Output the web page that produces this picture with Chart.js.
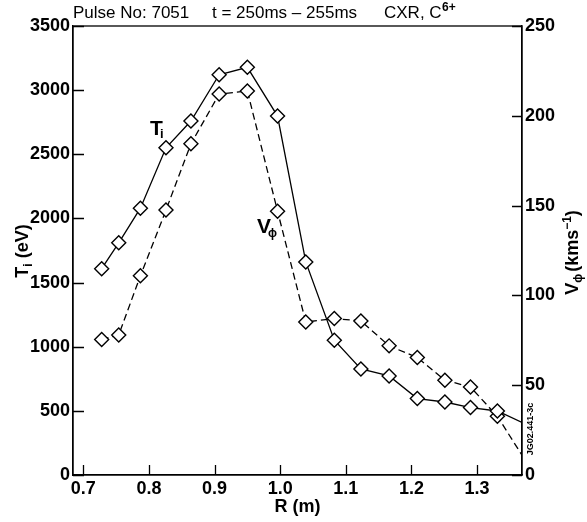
<!DOCTYPE html>
<html><head><meta charset="utf-8">
<script src="https://cdn.jsdelivr.net/npm/chart.js@4/dist/chart.umd.min.js"></script>
<style>html,body{margin:0;padding:0;background:#fff}#wrap{width:587px;height:522px;position:relative}</style>
</head><body><div id="wrap"><canvas id="c" width="587" height="522"></canvas></div>
<script>
// Data
const radiusM  = [0.728,0.754,0.787,0.826,0.864,0.907,0.950,0.996,1.039,1.0825,1.123,1.166,1.209,1.251,1.290,1.331];
const ionTemp  = [1608,1810,2080,2551,2759,3120,3178,2798,1661,1051,827,772,596,569,526,499];
const rotVel   = [75.4,78.0,110.9,147.5,184.4,212.1,213.8,146.9,85.2,87.1,85.8,71.9,65.4,52.8,49.0,32.7];
// where each line leaves the plot at the right edge
const edgeR = 1.3685;
const edgeTemp = 409;
const edgeVel = 11.0;
const xTickValues = [0.7,0.8,0.9,1.0,1.1,1.2,1.3];
const tempTickStep = 500;
const velTickStep = 50;

const FONT = '"Liberation Sans", Arial, Helvetica, sans-serif';

function pts(xs, ys, ex, ey){ const a = xs.map((x,i)=>({x:x,y:ys[i]})); a.push({x:ex,y:ey}); return a; }
function radii(n){ const r = new Array(n).fill(7); r.push(0); return r; }

function runs(ctx, x, y, parts){
  let cx = x;
  for (const p of parts){
    ctx.font = (p[2]||'bold') + ' ' + p[1] + 'px ' + FONT;
    ctx.fillText(p[0], cx + (p[4]||0), y + (p[3]||0));
    cx += ctx.measureText(p[0]).width + (p[4]||0);
  }
  return cx - x;
}
function runsWidth(ctx, parts){
  let w=0; for (const p of parts){ ctx.font=(p[2]||'bold')+' '+p[1]+'px '+FONT; w+=ctx.measureText(p[0]).width+(p[4]||0);} return w;
}
function txt(ctx, s, x, y, size, weight){ ctx.font = (weight||'normal')+' '+size+'px '+FONT; ctx.fillText(s, x, y); }

const decor = {
  id:'decor',
  afterDraw(chart){
    const ctx = chart.ctx, a = chart.chartArea;
    const xs = chart.scales.x, ys = chart.scales.y, y2 = chart.scales.y2;
    ctx.save();
    ctx.strokeStyle = '#000'; ctx.lineWidth = 1.3;
    ctx.strokeRect(a.left, a.top, a.right-a.left, a.bottom-a.top);
    ctx.beginPath();
    xs.ticks.forEach(t=>{ const p = Math.round(xs.getPixelForValue(t.value))+0.5; ctx.moveTo(p, a.bottom); ctx.lineTo(p, a.bottom-10); });
    ys.ticks.forEach(t=>{ const p = Math.round(ys.getPixelForValue(t.value))+0.5; ctx.moveTo(a.left, p); ctx.lineTo(a.left+11, p); });
    y2.ticks.forEach(t=>{ const p = Math.round(y2.getPixelForValue(t.value))+0.5; ctx.moveTo(a.right, p); ctx.lineTo(a.right-10, p); });
    ctx.stroke();

    ctx.fillStyle = '#000';
    ctx.textBaseline = 'alphabetic'; ctx.textAlign = 'left';
    // title
    txt(ctx, 'Pulse No: 7051', 73, 18, 17);
    txt(ctx, 't = 250ms \u2013 255ms', 212, 18, 17);
    runs(ctx, 384, 18, [['CXR, C',17,'normal'],['6+',12,'bold',-7,0.5]]);

    // in-plot labels
    txt(ctx, 'T', 150, 135, 21, 'bold');
    txt(ctx, 'i', 160, 138, 13, 'bold');
    txt(ctx, 'V', 257, 233, 21, 'bold');
    txt(ctx, '\u03d5', 268, 237, 12, 'bold');

    // x axis title
    ctx.font = 'bold 18px ' + FONT;
    ctx.textAlign = 'center';
    ctx.fillText('R (m)', (a.left+a.right)/2, 512);
    ctx.textAlign = 'left';

    // left axis title
    const lp = [['T',18,'bold'],['i',12,'bold',4],[' (eV)',18,'bold']];
    ctx.save(); ctx.translate(27.5, 251); ctx.rotate(-Math.PI/2);
    runs(ctx, -runsWidth(ctx, lp)/2, 0, lp); ctx.restore();

    // right axis title
    const rp = [['V',18,'bold'],['\u03d5',12,'bold',4],['(kms',18,'bold',0,2],['\u22121',12,'bold',-7],[')',18,'bold']];
    ctx.save(); ctx.translate(578, 252.5); ctx.rotate(-Math.PI/2);
    runs(ctx, -runsWidth(ctx, rp)/2, 0, rp); ctx.restore();

    // figure code
    ctx.save(); ctx.translate(533, 429); ctx.rotate(-Math.PI/2);
    ctx.font = 'bold 9px ' + FONT; ctx.textAlign='center';
    ctx.fillText('JG02.441-3c', 0, 0); ctx.restore();
    ctx.restore();
  }
};

const tickFont = { family:FONT, size:18, weight:'bold' };
new Chart(document.getElementById('c'), {
  type: 'line',
  data: {
    datasets: [
      { label:'Ti', data: pts(radiusM, ionTemp, edgeR, edgeTemp), yAxisID:'y',
        borderColor:'#000', borderWidth:1.3, pointStyle:'rectRot', pointRadius: radii(radiusM.length),
        pointBackgroundColor:'#fff', pointBorderColor:'#000', pointBorderWidth:1.4, tension:0, order:1 },
      { label:'V', data: pts(radiusM, rotVel, edgeR, edgeVel), yAxisID:'y2',
        borderColor:'#000', borderWidth:1.3, borderDash:[7,4], pointStyle:'rectRot', pointRadius: radii(radiusM.length),
        pointBackgroundColor:'#fff', pointBorderColor:'#000', pointBorderWidth:1.4, tension:0, order:2 }
    ]
  },
  options: {
    responsive:false, animation:false, devicePixelRatio:1,
    layout:{ padding:{ top:26, left:0, right:0, bottom:0 } },
    plugins:{ legend:{display:false}, tooltip:{enabled:false}, title:{display:false} },
    scales:{
      x:{ type:'linear', min:0.6843, max:1.3685,
        afterBuildTicks(s){ s.ticks = xTickValues.map(v=>({value:v})); },
        afterFit(s){ s.height = 47; },
        grid:{ drawOnChartArea:false, drawTicks:false },
        border:{ display:true, color:'#000', width:1.3 },
        ticks:{ padding:3, color:'#000', font:tickFont, callback:v=>v.toFixed(1), maxRotation:0 } },
      y:{ position:'left', min:0, max:3500,
        afterFit(s){ s.width = 73; },
        grid:{ drawOnChartArea:false, drawTicks:false },
        border:{ display:true, color:'#000', width:1.3 },
        ticks:{ stepSize:tempTickStep, padding:3, color:'#000', font:tickFont, callback:v=>String(v) } },
      y2:{ position:'right', min:0, max:250,
        afterFit(s){ s.width = 65; },
        grid:{ drawOnChartArea:false, drawTicks:false },
        border:{ display:true, color:'#000', width:1.3 },
        ticks:{ stepSize:velTickStep, padding:3, color:'#000', font:tickFont, callback:v=>String(v) } }
    }
  },
  plugins:[decor]
});
</script></body></html>
